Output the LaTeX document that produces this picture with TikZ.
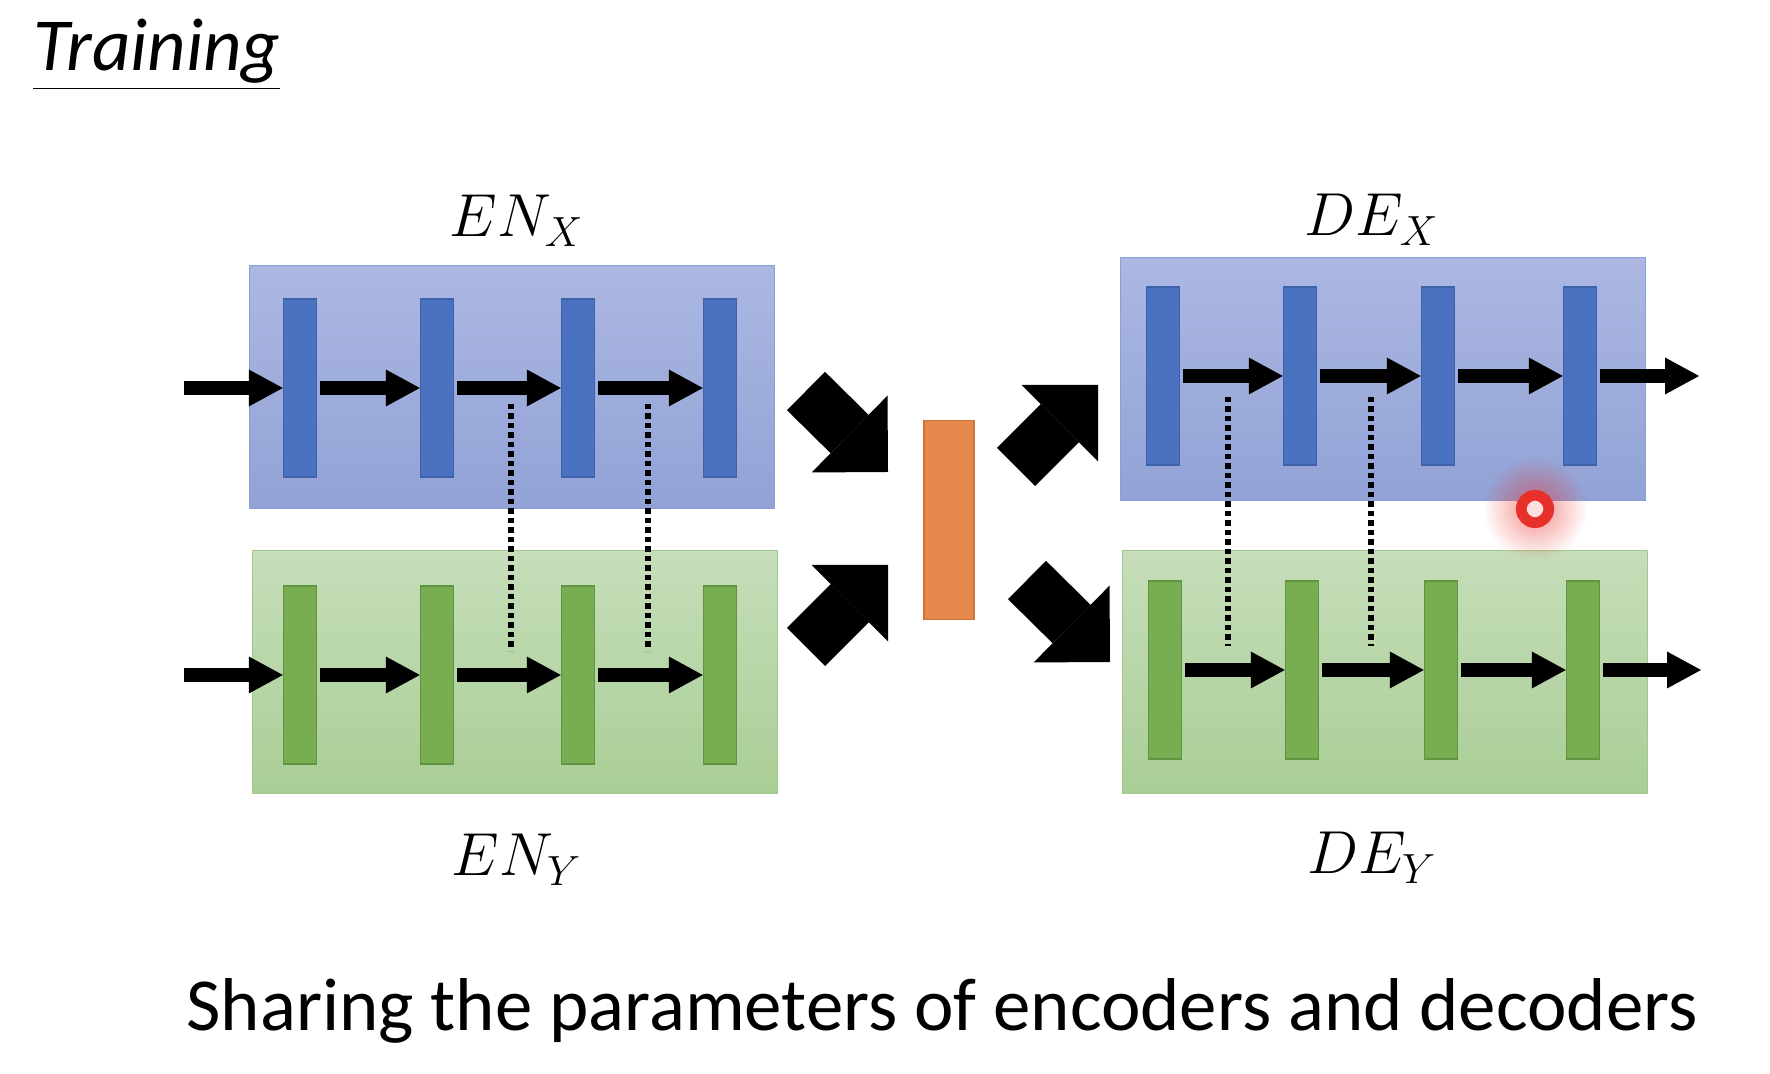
\documentclass[tikz,border=0pt]{standalone}
\usepackage{fontspec}
\setmainfont{Carlito}
\usepackage{xcolor}
\usepackage{tikz}
\usetikzlibrary{arrows.meta, positioning, calc, fadings}

\definecolor{blutop}{HTML}{ACB8E2}
\definecolor{blubot}{HTML}{92A2D6}
\definecolor{bluedge}{HTML}{8A9ED8}
\definecolor{blubarc}{HTML}{4A72C0}
\definecolor{blubaredge}{HTML}{3D62AA}
\definecolor{grntop}{HTML}{C6DEBA}
\definecolor{grnbot}{HTML}{AACE96}
\definecolor{grnedge}{HTML}{A0C78C}
\definecolor{grnbarc}{HTML}{79AD52}
\definecolor{grnbaredge}{HTML}{5F9440}
\definecolor{codeorange}{HTML}{E4894B}
\definecolor{codeedge}{HTML}{CF7436}
\definecolor{ptred}{HTML}{E8302A}

\tikzfading[name=glowfade, inner color=transparent!45, outer color=transparent!100]

\begin{document}
\begin{tikzpicture}[
  x=0.1mm, y=-0.1mm,
  font=\fontsize{21.3}{25}\selectfont,
  blubox/.style={rectangle, draw=bluedge, top color=blutop, bottom color=blubot,
    minimum width=52.5mm, minimum height=24.3mm, inner sep=0},
  grnbox/.style={rectangle, draw=grnedge, top color=grntop, bottom color=grnbot,
    minimum width=52.5mm, minimum height=24.3mm, inner sep=0},
  blubar/.style={rectangle, draw=blubaredge, fill=blubarc, minimum width=3.3mm,
    minimum height=17.8mm, inner sep=0},
  grnbar/.style={rectangle, draw=grnbaredge, fill=grnbarc, minimum width=3.3mm,
    minimum height=17.8mm, inner sep=0},
  lbl/.style={anchor=base, font=\fontsize{18.5}{22}\selectfont},
  arr/.style={line width=1.35mm, shorten <=0.3mm,
    -{Triangle[length=3.4mm, width=3.7mm, line width=0pt]}},
  bigarr/.style={line width=5.4mm, -{Triangle[length=5.4mm, width=10.8mm, line width=0pt]}},
  share/.style={line width=0.6mm, dash pattern=on 0.55mm off 0.4mm}
]
\useasboundingbox (0,0) rectangle (1770,1074);

\node[anchor=base west] (ttl) at (21,71) {\underline{\textit{Training}}};

% encoder and decoder blocks
\node[blubox] (enx) at (512,387) {};
\node[grnbox] (eny) at (515,672) {};
\node[blubox] (dex) at (1383,379) {};
\node[grnbox] (dey) at (1385,672) {};

\node[lbl] (lenx) at (517,237) {$EN_X$};
\node[lbl] (leny) at (517,876) {$EN_Y$};
\node[lbl] (ldex) at (1372,236) {$DE_X$};
\node[lbl] (ldey) at (1372,874) {$DE_Y$};

% layers
\node[blubar] (ex1) at (300,388) {};  \node[blubar] (ex2) at (437,388) {};
\node[blubar] (ex3) at (578,388) {};  \node[blubar] (ex4) at (720,388) {};
\node[grnbar] (ey1) at (300,675) {};  \node[grnbar] (ey2) at (437,675) {};
\node[grnbar] (ey3) at (578,675) {};  \node[grnbar] (ey4) at (720,675) {};
\node[blubar] (dx1) at (1163,376) {}; \node[blubar] (dx2) at (1300,376) {};
\node[blubar] (dx3) at (1438,376) {}; \node[blubar] (dx4) at (1580,376) {};
\node[grnbar] (dy1) at (1165,670) {}; \node[grnbar] (dy2) at (1302,670) {};
\node[grnbar] (dy3) at (1441,670) {}; \node[grnbar] (dy4) at (1583,670) {};

% latent code
\node[rectangle, draw=codeedge, fill=codeorange, minimum width=5mm, minimum height=19.9mm,
  inner sep=0] (code) at (949,520) {};

\coordinate (inx) at (181,388);   \coordinate (iny) at (181,675);
\coordinate (outx) at (1699,376); \coordinate (outy) at (1701,670);

\draw[arr] (inx) -- (ex1.west); \draw[arr] (ex1.east) -- (ex2.west);
\draw[arr] (ex2.east) -- (ex3.west); \draw[arr] (ex3.east) -- (ex4.west);
\draw[arr] (iny) -- (ey1.west); \draw[arr] (ey1.east) -- (ey2.west);
\draw[arr] (ey2.east) -- (ey3.west); \draw[arr] (ey3.east) -- (ey4.west);
\draw[arr] (dx1.east) -- (dx2.west); \draw[arr] (dx2.east) -- (dx3.west);
\draw[arr] (dx3.east) -- (dx4.west); \draw[arr] (dx4.east) -- (outx);
\draw[arr] (dy1.east) -- (dy2.west); \draw[arr] (dy2.east) -- (dy3.west);
\draw[arr] (dy3.east) -- (dy4.west); \draw[arr] (dy4.east) -- (outy);

% shared parameters
\coordinate (sa1) at (511,404);  \coordinate (sb1) at (511,651);
\coordinate (sa2) at (648,404);  \coordinate (sb2) at (648,651);
\coordinate (sa3) at (1228,397); \coordinate (sb3) at (1228,646);
\coordinate (sa4) at (1371,397); \coordinate (sb4) at (1371,646);
\draw[share] (sa1) -- (sb1); \draw[share] (sa2) -- (sb2);
\draw[share] (sa3) -- (sb3); \draw[share] (sa4) -- (sb4);

% into and out of the code
\coordinate (ax1) at (806,391);  \coordinate (ax2) at (888,472);
\coordinate (ay1) at (806,647);  \coordinate (ay2) at (888,565);
\coordinate (bx1) at (1016,467); \coordinate (bx2) at (1098,385);
\coordinate (by1) at (1027,580); \coordinate (by2) at (1110,662);
\draw[bigarr] (ax1) -- (ax2); \draw[bigarr] (ay1) -- (ay2);
\draw[bigarr] (bx1) -- (bx2); \draw[bigarr] (by1) -- (by2);

% pointer
\coordinate (ptr) at (1535,509);
\fill[ptred, path fading=glowfade] (ptr) circle (52);
\draw[ptred, line width=1.07mm, fill=white!85!ptred] (ptr) circle (13.7);

\node[anchor=base] (cap) at (942,1031) {Sharing the parameters of encoders and decoders};
\end{tikzpicture}
\end{document}
